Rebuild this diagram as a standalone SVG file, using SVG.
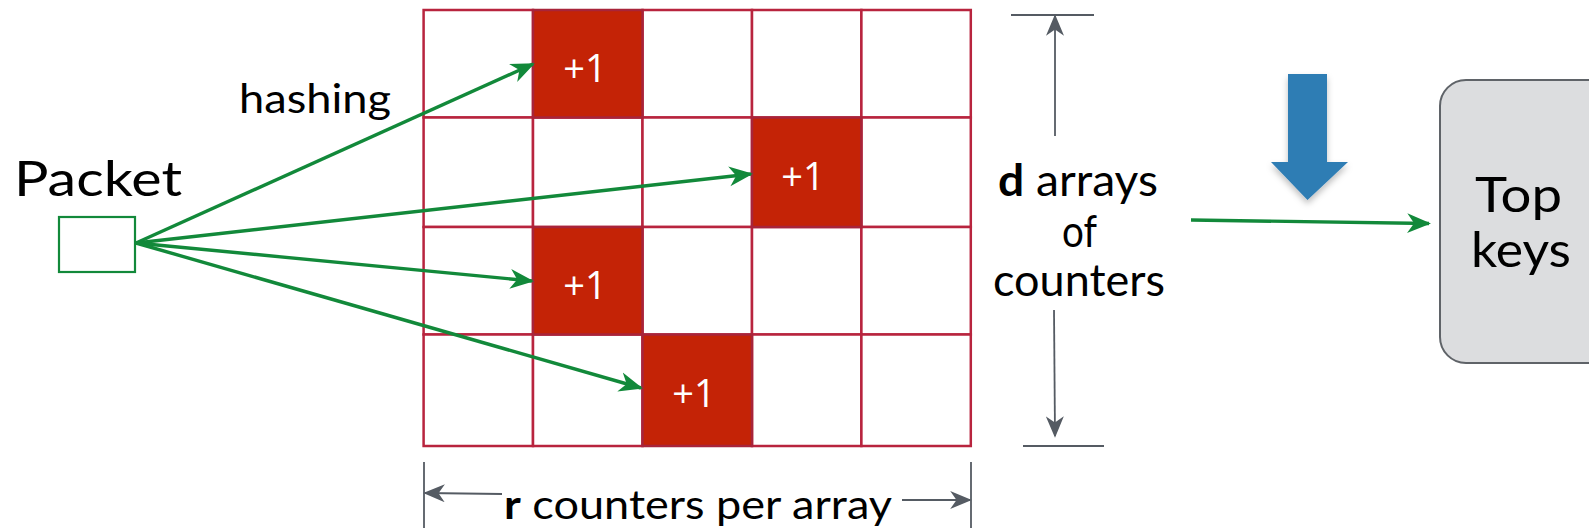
<svg xmlns="http://www.w3.org/2000/svg" width="1589" height="530" viewBox="0 0 1589 530">
<style>
.cell{fill:#ffffff;stroke:#b8243e;stroke-width:2.5}
.hot{fill:#c42306;stroke:#a8243a;stroke-width:2.5}
.plus{font-family:"Open Sans","DejaVu Sans",sans-serif;font-size:38px;fill:#ffffff;text-anchor:middle}
.lbl{font-family:Lato,"Open Sans",sans-serif;font-weight:400;fill:#000000}
.green{stroke:#12893a;stroke-width:3.4;fill:none}
.dim{stroke:#555b63;stroke-width:1.8;fill:none}
</style>
<defs>
<marker id="ga" viewBox="0 0 12 10" refX="11" refY="5" markerWidth="7" markerHeight="6" markerUnits="strokeWidth" orient="auto">
<path d="M0,0 L12,5 L0,10 L3.5,5 z" fill="#12893a"/>
</marker>
<marker id="da" viewBox="0 0 12 10" refX="11" refY="5" markerWidth="12" markerHeight="10" markerUnits="strokeWidth" orient="auto">
<path d="M0,0 L12,5 L0,10 L3.5,5 z" fill="#555b63"/>
</marker>
<filter id="sh" x="-30%" y="-20%" width="160%" height="150%">
<feDropShadow dx="0" dy="4" stdDeviation="3" flood-color="#000000" flood-opacity="0.25"/>
</filter>
</defs>

<g id="grid">
<rect class="cell" x="423.6" y="10" width="109.4" height="107.5"/>
<rect class="cell" x="642.5" y="10" width="109.5" height="107.5"/>
<rect class="cell" x="752" y="10" width="109.4" height="107.5"/>
<rect class="cell" x="861.4" y="10" width="109.4" height="107.5"/>
<rect class="cell" x="423.6" y="117.5" width="109.4" height="109.5"/>
<rect class="cell" x="533" y="117.5" width="109.5" height="109.5"/>
<rect class="cell" x="642.5" y="117.5" width="109.5" height="109.5"/>
<rect class="cell" x="861.4" y="117.5" width="109.4" height="109.5"/>
<rect class="cell" x="423.6" y="227" width="109.4" height="107.5"/>
<rect class="cell" x="642.5" y="227" width="109.5" height="107.5"/>
<rect class="cell" x="752" y="227" width="109.4" height="107.5"/>
<rect class="cell" x="861.4" y="227" width="109.4" height="107.5"/>
<rect class="cell" x="423.6" y="334.5" width="109.4" height="111.5"/>
<rect class="cell" x="533" y="334.5" width="109.5" height="111.5"/>
<rect class="cell" x="752" y="334.5" width="109.4" height="111.5"/>
<rect class="cell" x="861.4" y="334.5" width="109.4" height="111.5"/>
</g>
<g id="hot1"><rect class="hot" x="533" y="10" width="109.5" height="107.5"/><text class="plus" x="585" y="82">+1</text></g>
<g id="hot2"><rect class="hot" x="752" y="117.5" width="109.4" height="109.5"/><text class="plus" x="803" y="190">+1</text></g>
<g id="hot3"><rect class="hot" x="533" y="227" width="109.5" height="107.5"/><text class="plus" x="585" y="299">+1</text></g>
<g id="hot4"><rect class="hot" x="642.5" y="334.5" width="109.5" height="111.5"/><text class="plus" x="694" y="407">+1</text></g>

<g id="packet">
<text class="lbl" x="14" y="196" font-size="49" textLength="168" lengthAdjust="spacingAndGlyphs">Packet</text>
<rect x="59" y="217" width="76" height="55" fill="none" stroke="#12893a" stroke-width="2.2"/>
</g>
<g id="hashing-label"><text class="lbl" x="239" y="113" font-size="40" textLength="152" lengthAdjust="spacingAndGlyphs">hashing</text></g>

<g id="d-label">
<text class="lbl" x="998" y="196" font-size="44" textLength="160" lengthAdjust="spacingAndGlyphs"><tspan font-weight="700">d</tspan> arrays</text>
<text class="lbl" x="1062" y="247" font-size="44" textLength="35" lengthAdjust="spacingAndGlyphs">of</text>
<text class="lbl" x="993" y="296" font-size="44" textLength="172" lengthAdjust="spacingAndGlyphs">counters</text>
</g>
<g id="r-label">
<text class="lbl" x="504" y="519" font-size="40" textLength="388" lengthAdjust="spacingAndGlyphs"><tspan font-weight="700">r</tspan> counters per array</text>
</g>

<g id="blue-arrow">
<path d="M1288,74 L1327,74 L1327,162 L1348,162 L1307.5,200 L1271,162 L1288,162 Z" fill="#2f7db4" filter="url(#sh)"/>
</g>

<g id="top-keys">
<rect x="1440" y="80" width="180" height="283" rx="26" ry="26" fill="#dcdddf" stroke="#5f6368" stroke-width="2"/>
<text class="lbl" x="1475" y="212" font-size="48" textLength="87" lengthAdjust="spacingAndGlyphs">Top</text>
<text class="lbl" x="1471" y="267" font-size="48" textLength="100" lengthAdjust="spacingAndGlyphs">keys</text>
</g>

<g id="connectors">
<line class="green" x1="136" y1="243" x2="533" y2="64" marker-end="url(#ga)"/>
<line class="green" x1="136" y1="243" x2="751" y2="174" marker-end="url(#ga)"/>
<line class="green" x1="136" y1="243" x2="532" y2="281" marker-end="url(#ga)"/>
<line class="green" x1="136" y1="243" x2="641" y2="388" marker-end="url(#ga)"/>
<line class="green" x1="1191" y1="220" x2="1429" y2="223.5" marker-end="url(#ga)"/>
<line class="dim" x1="1011" y1="15" x2="1094" y2="15"/>
<line class="dim" x1="1055" y1="136" x2="1055" y2="16" marker-end="url(#da)"/>
<line class="dim" x1="1054" y1="310" x2="1055" y2="436" marker-end="url(#da)"/>
<line class="dim" x1="1023" y1="446" x2="1104" y2="446"/>
<line class="dim" x1="424" y1="462" x2="424" y2="528"/>
<line class="dim" x1="971" y1="462" x2="971" y2="528"/>
<line class="dim" x1="502" y1="494" x2="425" y2="493" marker-end="url(#da)"/>
<line class="dim" x1="902" y1="500" x2="970" y2="500" marker-end="url(#da)"/>
</g>
</svg>
